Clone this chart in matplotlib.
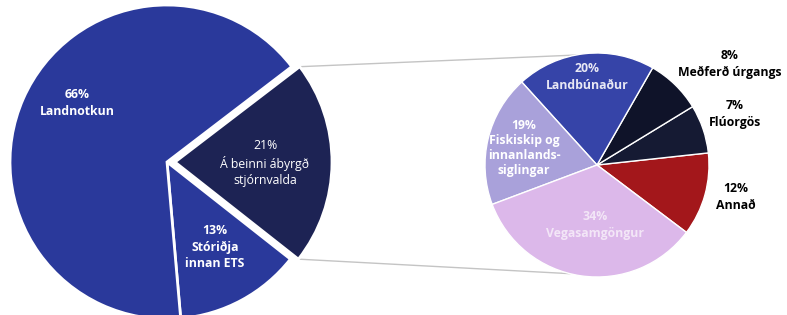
import numpy as np
import matplotlib.pyplot as plt

plt.rcParams['font.family'] = ['Open Sans', 'DejaVu Sans']

# vinstri kaka
left_vals = [13, 21, 66]
left_labels = ["13%\nStóriðja\ninnan ETS", "21%\nÁ beinni ábyrgð\nstjórnvalda", "66%\nLandnotkun"]
left_colors = ["#2a399b", "#1d2354", "#2a399b"]

# hægri kaka
right_vals = [12, 7, 8, 20, 19, 34]
right_labels = ["12%\nAnnað", "7%\nFlúorgös", "8%\nMeðferð úrgangs", "20%\nLandbúnaður",
                "19%\nFiskiskip og\ninnanlands-\nsiglingar", "34%\nVegasamgöngur"]
right_colors = ["#a3171b", "#151a33", "#0f1329", "#3644a8", "#a9a1da", "#dcb8ea"]

W, H = 787, 315
fig = plt.figure(figsize=(W / 100, H / 100), dpi=100)
ax = fig.add_axes([0, 0, 1, 1])

lc, lr = (167, 153), 157
rc, rr = (597, 150), 112

# explode er í gagnaeiningum (pixlum hér)
lw_, _ = ax.pie(left_vals, colors=left_colors, startangle=-85, counterclock=True,
                center=lc, radius=lr, explode=[0, 8, 0], frame=True,
                wedgeprops=dict(edgecolor="white", linewidth=2.0))
rw_, _ = ax.pie(right_vals, colors=right_colors, startangle=-37, counterclock=True,
                center=rc, radius=rr, frame=True,
                wedgeprops=dict(edgecolor="white", linewidth=1.0))

# tengilínur
w = lw_[1]
cx, cy = w.center
for t1, t2 in [(w.theta2, 101), (w.theta1, 256)]:
    x0 = cx + w.r * np.cos(np.radians(t1))
    y0 = cy + w.r * np.sin(np.radians(t1))
    x1 = rc[0] + rr * np.cos(np.radians(t2))
    y1 = rc[1] + rr * np.sin(np.radians(t2))
    ax.plot([x0, x1], [y0, y1], color="#c4c4c4", lw=1.0, zorder=0)

fs = 8.8
kw = dict(ha="center", va="center", linespacing=1.35, fontsize=fs)
ax.text(77, H - 103, left_labels[2], color="white", fontweight="bold", **kw)
ax.text(265, H - 163, left_labels[1], color="white", **kw)
ax.text(215, H - 247, left_labels[0], color="white", fontweight="bold", **kw)

ax.text(587, H - 77, right_labels[3], color="#e8e8f4", fontweight="bold", **kw)
ax.text(524, H - 148, right_labels[4], color="white", fontweight="bold",
        ha="center", va="center", linespacing=1.2, fontsize=fs)
ax.text(595, H - 225, right_labels[5], color="#f3e6f7", fontweight="bold", **kw)
ax.text(730, H - 64, right_labels[2], color="black", fontweight="bold", **kw)
ax.text(735, H - 114, right_labels[1], color="black", fontweight="bold", **kw)
ax.text(736, H - 197, right_labels[0], color="black", fontweight="bold", **kw)

ax.set_xlim(0, W)
ax.set_ylim(0, H)
ax.set_aspect("equal")
ax.axis("off")

fig.savefig("out.png", dpi=100)
